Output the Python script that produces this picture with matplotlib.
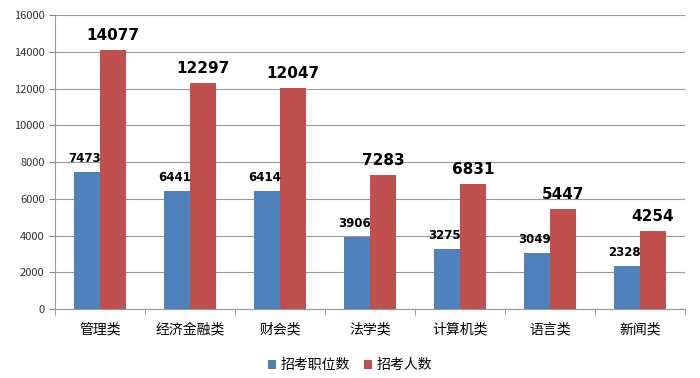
import numpy as np
import matplotlib
matplotlib.use("Agg")
import matplotlib.pyplot as plt

plt.rcParams['font.family'] = ['Noto Sans CJK SC', 'DejaVu Sans']

cats = ["管理类", "经济金融类", "财会类", "法学类", "计算机类", "语言类", "新闻类"]
posts = [7473, 6441, 6414, 3906, 3275, 3049, 2328]
people = [14077, 12297, 12047, 7283, 6831, 5447, 4254]
series = ["招考职位数", "招考人数"]

fig = plt.figure(figsize=(7, 3.78), dpi=100)
ax = fig.add_axes([0.0786, 0.1825, 0.9, 0.7775])

x = np.arange(len(cats))
w = 0.29
b1 = ax.bar(x - w/2, posts, w, color="#4f81bd", label=series[0], zorder=3)
b2 = ax.bar(x + w/2, people, w, color="#c0504d", label=series[1], zorder=3)

for r, v in zip(b1, posts):
    ax.annotate(str(v), (r.get_x() + r.get_width()/2 - 0.03, v), xytext=(0, 5),
                textcoords="offset points", ha="center", va="bottom",
                fontsize=8.5, fontweight="bold", family="DejaVu Sans")
for r, v in zip(b2, people):
    ax.annotate(str(v), (r.get_x() + r.get_width()/2, v), xytext=(0, 5),
                textcoords="offset points", ha="center", va="bottom",
                fontsize=11, fontweight="bold", family="DejaVu Sans")

ax.set_xlim(-0.5, len(cats) - 0.5)
ax.set_ylim(0, 16000)
ax.set_yticks(range(0, 16001, 2000))
ax.set_xticks(x)
ax.set_xticklabels(cats, fontsize=10)
ax.set_xticks(np.arange(-0.5, len(cats)), minor=True)
ax.tick_params(axis="x", which="major", length=0, pad=10)
ax.tick_params(axis="x", which="minor", length=4, color="#888888", direction="out")
ax.tick_params(axis="y", length=4, color="#888888", labelsize=8, colors="#333333")
ax.yaxis.grid(True, color="#999999", linewidth=0.8, zorder=0)
for s in ["top", "right"]:
    ax.spines[s].set_visible(False)
ax.spines["left"].set_color("#999999")
ax.spines["bottom"].set_color("#999999")

fig.legend(loc="lower center", ncol=2, frameon=False, fontsize=10,
           bbox_to_anchor=(0.5, -0.018), handlelength=0.6, handleheight=0.6,
           handletextpad=0.3, columnspacing=1.0)

fig.savefig("out.png", dpi=100)
